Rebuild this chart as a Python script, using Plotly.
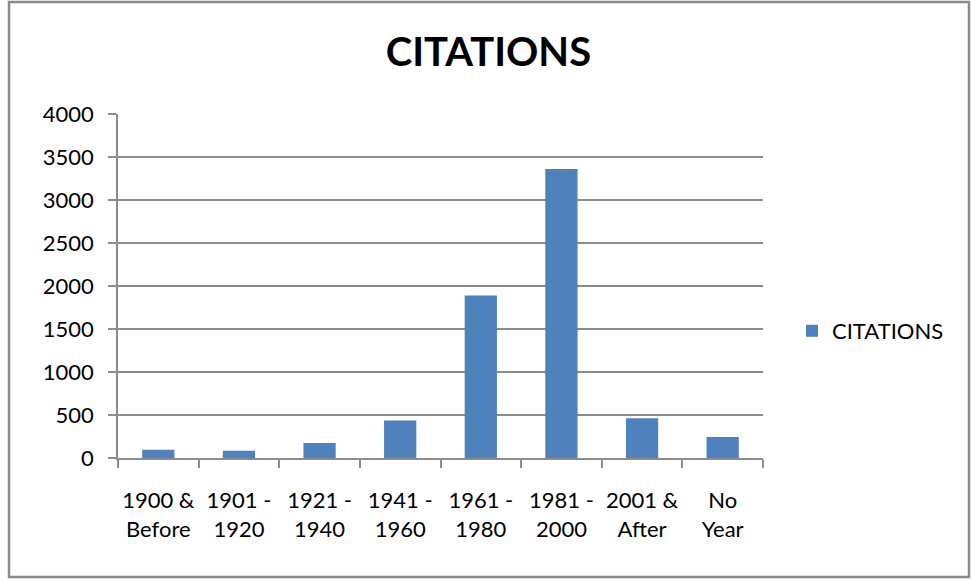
import plotly.graph_objs as go

# Categories and citation counts
categories = ["1900 &<br>Before", "1901 -<br>1920", "1921 -<br>1940", "1941 -<br>1960",
              "1961 -<br>1980", "1981 -<br>2000", "2001 &<br>After", "No<br>Year"]
citations = [95, 85, 175, 435, 1890, 3360, 462, 245]
y_ticks = [0, 500, 1000, 1500, 2000, 2500, 3000, 3500, 4000]

font_family = "Lato, Open Sans, sans-serif"
bar_color = "#4f81bd"
grid_color = "#8c8c8c"

trace = go.Bar(x=categories,
               y=citations,
               name="CITATIONS",
               marker=dict(color=bar_color, line=dict(width=0)))

# plot area in pixels: x 118..763, y 114..458
L, R, T, B = 118, 208, 114, 123
pw, ph = 971 - L - R, 581 - T - B

def px(x):
    return (x - L) / pw

def py(y):
    return (581 - B - y) / ph

layout = dict(
    width=971, height=581,
    margin=dict(l=L, r=R, t=T, b=B),
    paper_bgcolor="white", plot_bgcolor="white",
    font=dict(family=font_family, size=22, color="black"),
    title=dict(text="<b>CITATIONS</b>", x=0.503, xanchor="center",
               y=1 - 52 / 581, yanchor="middle",
               font=dict(family=font_family, size=40, color="black")),
    bargap=0.6,
    showlegend=True,
    legend=dict(x=px(792), y=py(331), xanchor="left", yanchor="middle",
                font=dict(size=22), itemwidth=30, bgcolor="rgba(0,0,0,0)"),
    xaxis=dict(type="category", tickson="boundaries", ticks="outside",
               ticklen=8, tickcolor=grid_color, tickwidth=1.5, tickangle=0,
               showline=True, linecolor=grid_color, linewidth=1.5,
               showgrid=False, tickfont=dict(size=22), ticklabelstandoff=22),
    yaxis=dict(range=[0, 4000], tickvals=y_ticks, ticks="outside", ticklen=8,
               tickcolor=grid_color, tickwidth=1.5,
               showline=True, linecolor=grid_color, linewidth=1.5,
               showgrid=True, gridcolor=grid_color, gridwidth=1.5,
               zeroline=False, tickfont=dict(size=22), ticklabelstandoff=10),
    shapes=[dict(type="rect", xref="paper", yref="paper",
                 x0=px(9), x1=px(969), y0=py(577), y1=py(2),
                 line=dict(color="#8a8a8a", width=2.5), layer="below")],
)

fig = go.Figure(data=[trace], layout=layout)
# drop the page's default body margin so the figure sits at the window corner
fig.write_html("out.html", config={"displayModeBar": False},
               post_script="document.body.style.margin='0';")
